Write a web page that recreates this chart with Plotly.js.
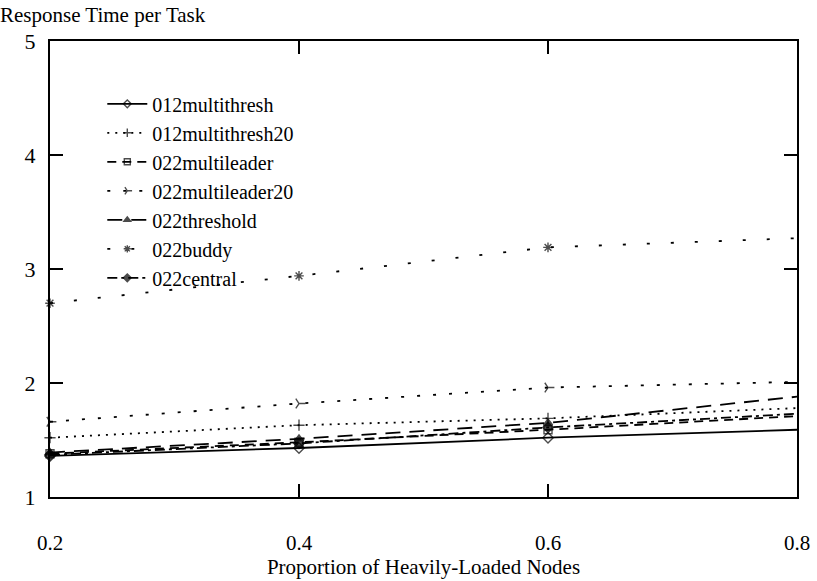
<!DOCTYPE html>
<html>
<head>
<meta charset="utf-8">
<script src="https://cdn.plot.ly/plotly-3.0.1.min.js"></script>
<style>html,body{margin:0;padding:0;background:#fff;}</style>
</head>
<body>
<div id="chart" style="width:817px;height:581px;"></div>
<script>
const xValues = [0.2, 0.4, 0.6, 0.8];
const seriesNames = ["012multithresh", "012multithresh20", "022multileader", "022multileader20", "022threshold", "022buddy", "022central"];
const multithresh = [1.36, 1.43, 1.52, 1.59];
const multithresh20 = [1.52, 1.63, 1.69, 1.78];
const multileader = [1.38, 1.48, 1.59, 1.71];
const multileader20 = [1.66, 1.82, 1.96, 2.01];
const threshold = [1.39, 1.51, 1.65, 1.88];
const buddy = [2.70, 2.94, 3.19, 3.27];
const central = [1.37, 1.47, 1.61, 1.73];
const xTicks = [0.2, 0.4, 0.6, 0.8];
const yTicks = [1, 2, 3, 4, 5];

const seriesValues = [multithresh, multithresh20, multileader, multileader20, threshold, buddy, central];
const styles = [
  {dash: "solid", symbol: "diamond-open"},
  {dash: "2px,6px", symbol: "cross-thin-open"},
  {dash: "9px,6px", symbol: "square-open"},
  {dash: "3px,13px", symbol: "y-right-open"},
  {dash: "15px,9px", symbol: "triangle-up"},
  {dash: "3px,21px", symbol: "asterisk-open"},
  {dash: "10px,4px,3px,4px", symbol: "diamond"}
];

const traces = seriesNames.map((name, i) => ({
  x: xValues,
  y: seriesValues[i],
  name: name,
  type: "scatter",
  mode: "lines+markers",
  cliponaxis: false,
  line: {color: "#000", width: 1.8, dash: styles[i].dash},
  marker: {symbol: styles[i].symbol, size: [8, 8, 8, 0], color: "#000", line: {color: "#000", width: 1.4}}
}));

const font = {family: "'Liberation Serif', 'Times New Roman', serif", color: "#000"};

const layout = {
  width: 817, height: 581,
  margin: {l: 50, r: 20, t: 41, b: 84},
  paper_bgcolor: "#fff", plot_bgcolor: "#fff",
  font: Object.assign({size: 21}, font),
  showlegend: true,
  title: {text: "Response Time per Task", x: 0, xanchor: "left", xref: "container", y: 0.975, yanchor: "middle", yref: "container", pad: {t: 0, b: 0, l: 0}, font: Object.assign({size: 21}, font)},
  xaxis: {
    range: [0.2, 0.8], tickvals: xTicks, ticktext: xTicks.map(v => v.toFixed(1)),
    ticks: "inside", ticklen: 13, tickwidth: 1.8, tickcolor: "#000",
    showline: true, linewidth: 2, linecolor: "#000", mirror: "ticks",
    showgrid: false, zeroline: false, ticklabelstandoff: 26,
    tickfont: Object.assign({size: 21}, font),
    title: {text: "Proportion of Heavily-Loaded Nodes", standoff: 4, font: Object.assign({size: 21}, font)}
  },
  yaxis: {
    range: [1, 5], tickvals: yTicks, ticktext: yTicks.map(String),
    ticks: "inside", ticklen: 13, tickwidth: 1.8, tickcolor: "#000",
    showline: true, linewidth: 2, linecolor: "#000", mirror: "ticks",
    showgrid: false, zeroline: false, ticklabelstandoff: 8,
    tickfont: Object.assign({size: 22}, font)
  },
  legend: {
    x: 0.07, xanchor: "left", y: 0.905, yanchor: "top",
    bgcolor: "rgba(0,0,0,0)", borderwidth: 0,
    font: Object.assign({size: 20}, font),
    tracegroupgap: 0, itemwidth: 40
  }
};

Plotly.newPlot("chart", traces, layout, {displayModeBar: false, staticPlot: true});
</script>
</body>
</html>
